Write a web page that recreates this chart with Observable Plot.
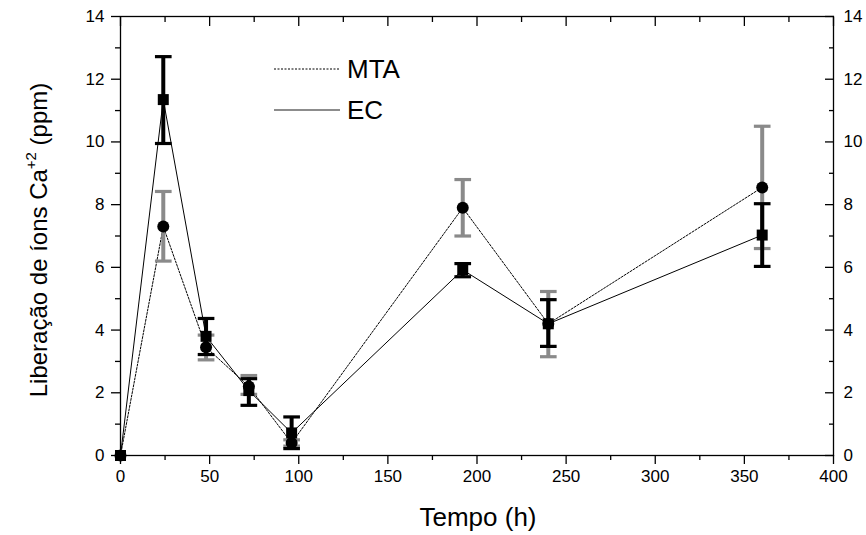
<!DOCTYPE html>
<html><head><meta charset="utf-8">
<script src="https://cdn.jsdelivr.net/npm/d3@7"></script>
<script src="https://cdn.jsdelivr.net/npm/@observablehq/plot@0.6"></script>
<style>
body{margin:0;background:#fff;}
#chart{width:866px;height:535px;}
svg text{font-family:"Liberation Sans",Arial,sans-serif;}
</style></head>
<body><div id="chart"></div>
<script>
const hours = [0, 24, 48, 72, 96, 192, 240, 360];
const mtaMean = [0, 7.3, 3.45, 2.2, 0.4, 7.9, 4.2, 8.55];
const mtaLow  = [0, 6.2, 3.05, 1.95, 0.3, 7.0, 3.15, 6.6];
const mtaHigh = [0, 8.42, 3.84, 2.55, 0.5, 8.8, 5.23, 10.5];
const ecMean  = [0, 11.35, 3.8, 2.07, 0.72, 5.92, 4.2, 7.03];
const ecLow   = [0, 9.95, 3.22, 1.6, 0.22, 5.7, 3.48, 6.03];
const ecHigh  = [0, 12.72, 4.37, 2.45, 1.23, 6.12, 4.97, 8.03];
const xTicks = [0, 50, 100, 150, 200, 250, 300, 350, 400];
const xMinor = [25, 75, 125, 175, 225, 275, 325, 375];
const yTicks = [0, 2, 4, 6, 8, 10, 12, 14];
const yMinor = [1, 3, 5, 7, 9, 11, 13];
const seriesNames = ["MTA", "EC"];

const mta = hours.map((h, i) => ({x: h, y: mtaMean[i], lo: mtaLow[i], hi: mtaHigh[i]}));
const ec = hours.map((h, i) => ({x: h, y: ecMean[i], lo: ecLow[i], hi: ecHigh[i]}));
const mtaErr = mta.filter(d => d.hi > d.lo);
const ecErr = ec.filter(d => d.hi > d.lo);

const capSymbol = {draw(ctx, size) { const w = Math.sqrt(size); ctx.moveTo(-w, 0); ctx.lineTo(w, 0); }};
const gray = "#8a8a8a";
const FF = "Liberation Sans, Arial, sans-serif";
const ax = {label: null, fontSize: 17, fontFamily: FF, strokeWidth: 1.3, fill: "#000"};

const plot = Plot.plot({
  width: 866, height: 535,
  marginLeft: 120, marginRight: 33, marginTop: 16, marginBottom: 80,
  x: {domain: [0, 400]},
  y: {domain: [0, 14]},
  style: {fontFamily: FF, fontSize: "17px", color: "#000"},
  marks: [
    Plot.frame({stroke: "#000", strokeWidth: 1.3}),
    Plot.axisX(xTicks, {...ax, anchor: "bottom", tickSize: 9, tickPadding: 5}),
    Plot.axisX(xMinor, {...ax, anchor: "bottom", tickSize: 5, tickFormat: () => ""}),
    Plot.axisX(xTicks, {...ax, anchor: "top", tickSize: -9, tickFormat: () => ""}),
    Plot.axisX(xMinor, {...ax, anchor: "top", tickSize: -5, tickFormat: () => ""}),
    Plot.axisY(yTicks, {...ax, anchor: "left", tickSize: 9, tickPadding: 7}),
    Plot.axisY(yMinor, {...ax, anchor: "left", tickSize: 5, tickFormat: () => ""}),
    Plot.axisY(yTicks, {...ax, anchor: "right", tickSize: -9, tickPadding: 19}),
    Plot.axisY(yMinor, {...ax, anchor: "right", tickSize: -5, tickFormat: () => ""}),
    // lines
    Plot.line(mta, {x: "x", y: "y", stroke: "#000", strokeWidth: 1, strokeDasharray: "2,1.5"}),
    Plot.line(ec, {x: "x", y: "y", stroke: "#000", strokeWidth: 1}),
    // MTA error bars (gray)
    Plot.ruleX(mtaErr, {x: "x", y1: "lo", y2: "hi", stroke: gray, strokeWidth: 4}),
    Plot.dot(mtaErr, {x: "x", y: "lo", symbol: capSymbol, r: 4.7, stroke: gray, strokeWidth: 3.2}),
    Plot.dot(mtaErr, {x: "x", y: "hi", symbol: capSymbol, r: 4.7, stroke: gray, strokeWidth: 3.2}),
    // EC error bars (black)
    Plot.ruleX(ecErr, {x: "x", y1: "lo", y2: "hi", stroke: "#000", strokeWidth: 4}),
    Plot.dot(ecErr, {x: "x", y: "lo", symbol: capSymbol, r: 4.7, stroke: "#000", strokeWidth: 3.2}),
    Plot.dot(ecErr, {x: "x", y: "hi", symbol: capSymbol, r: 4.7, stroke: "#000", strokeWidth: 3.2}),
    // markers
    Plot.dot(mta, {x: "x", y: "y", symbol: "circle", r: 6, fill: "#000", stroke: "none"}),
    Plot.dot(ec, {x: "x", y: "y", symbol: "square", r: 6.2, fill: "#000", stroke: "none"}),
    // x axis title
    Plot.text(["Tempo (h)"], {frameAnchor: "bottom", dx: 1, dy: 70, fontSize: 26, fontFamily: FF, fill: "#000"})
  ]
});

const svg = d3.select(plot);
// y axis title with superscript
const yt = svg.append("text")
  .attr("transform", "translate(47,240) rotate(-90)")
  .attr("text-anchor", "middle")
  .attr("font-family", FF)
  .attr("font-size", 24)
  .attr("fill", "#000");
yt.append("tspan").text("Liberação de íons Ca");
yt.append("tspan").attr("font-size", 15).attr("dy", -11).text("+2");
yt.append("tspan").attr("dy", 11).text(" (ppm)");

// legend
const leg = svg.append("g");
const legendRows = [
  {name: seriesNames[0], y: 69, dash: "2,1.5", stroke: "#000", w: 1},
  {name: seriesNames[1], y: 110, dash: null, stroke: "#666", w: 1.5}
];
legendRows.forEach(r => {
  leg.append("line").attr("x1", 274).attr("x2", 340).attr("y1", r.y).attr("y2", r.y)
    .attr("stroke", r.stroke).attr("stroke-width", r.w).attr("stroke-dasharray", r.dash);
  leg.append("text").attr("x", 347).attr("y", r.y).attr("dy", "0.36em")
    .attr("text-anchor", "start").attr("font-family", FF)
    .attr("font-size", 26).attr("fill", "#000").text(r.name);
});

document.getElementById("chart").appendChild(plot);
</script>
</body></html>
